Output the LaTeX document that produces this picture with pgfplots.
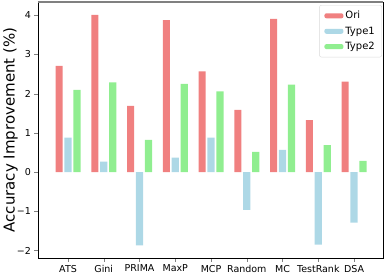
\documentclass[border=0pt]{standalone}
\usepackage{fontspec}
\setmainfont{DejaVu Sans}
\usepackage{pgfplots}
\pgfplotsset{compat=1.18}
\definecolor{ori}{RGB}{240,128,128}
\definecolor{typeone}{RGB}{173,216,230}
\definecolor{typetwo}{RGB}{144,238,144}
\pgfplotsset{mylegend/.style={legend image code/.code={\fill[##1] (0pt,-2.5pt) rectangle (19pt,2.5pt);}}}
\begin{document}
\begin{tikzpicture}
\begin{axis}[
 name=ax,
 scale only axis, width=345pt, height=256pt,
 xmin=-0.84, xmax=8.81, ymin=-2.19, ymax=4.34,
 xtick={0,...,8}, xticklabels={ATS,Gini,PRIMA,MaxP,MCP,Random,MC,TestRank,DSA},
 ytick={-2,...,4}, yticklabels={−2,−1,0,1,2,3,4},
 tick align=outside, tick pos=left, major tick length=3.5pt,
 tick label style={font=\fontsize{9.5}{11}\selectfont},
 ylabel={Accuracy Improvement (\%)},
 ylabel style={font=\fontsize{15}{18}\selectfont, at={([xshift=-19pt]axis description cs:0,0.5)}, anchor=south, inner sep=1pt},
 axis line style={line width=0.8pt},
 ybar, bar width=0.2,
 legend style={at={(0.997,0.988)}, anchor=north east, draw=gray!30, rounded corners=2pt,
   font=\fontsize{10}{12}\selectfont, inner xsep=5pt, inner ysep=4pt, row sep=2.5pt},
 legend cell align=left,
]
\addplot[fill=ori, draw=none, bar shift=-0.25, mylegend] coordinates {(0,2.71) (1,4.01) (2,1.69) (3,3.88) (4,2.57) (5,1.59) (6,3.91) (7,1.33) (8,2.31)};
\addplot[fill=typeone, draw=none, bar shift=0, mylegend] coordinates {(0,0.88) (1,0.27) (2,-1.87) (3,0.37) (4,0.88) (5,-0.96) (6,0.57) (7,-1.85) (8,-1.29)};
\addplot[fill=typetwo, draw=none, bar shift=0.25, mylegend] coordinates {(0,2.10) (1,2.29) (2,0.82) (3,2.25) (4,2.06) (5,0.52) (6,2.23) (7,0.69) (8,0.29)};
\legend{Ori,Type1,Type2}
\draw[gray, line width=1.6pt] (rel axis cs:0,1) -- (rel axis cs:1,1);
\end{axis}
\pgfresetboundingbox
\path[use as bounding box] ([xshift=-38pt,yshift=-16pt]ax.south west) rectangle ([xshift=1pt,yshift=2pt]ax.north east);
\end{tikzpicture}
\end{document}
